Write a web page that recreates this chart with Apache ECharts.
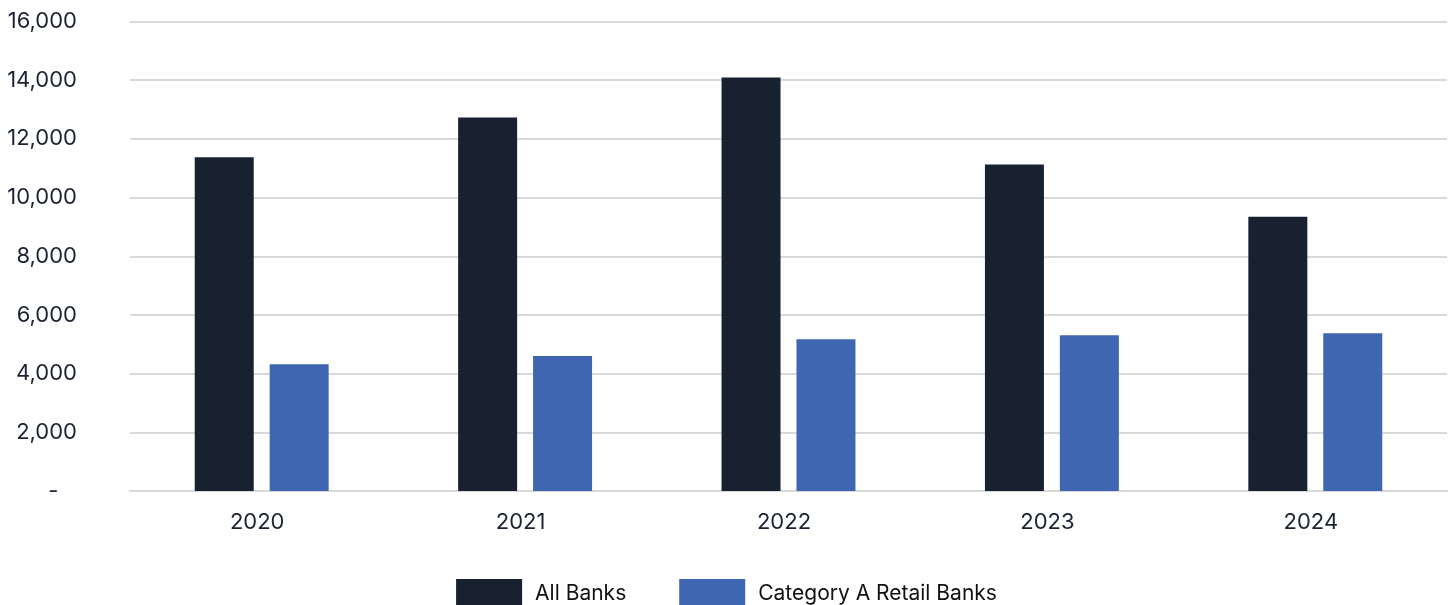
<!DOCTYPE html>
<html>
<head>
<meta charset="utf-8">
<script src="https://cdn.jsdelivr.net/npm/echarts@6/dist/echarts.min.js"></script>
<style>
  html, body { margin: 0; padding: 0; background: #ffffff; }
  #chart { width: 1453px; height: 605px; }
</style>
</head>
<body>
<div id="chart"></div>
<script>
// Years on the x axis
const years = ['2020', '2021', '2022', '2023', '2024'];
// Series values
const allBanks = [11370, 12730, 14090, 11130, 9350];
const categoryARetail = [4320, 4600, 5170, 5310, 5380];
// Series names
const seriesNames = ['All Banks', 'Category A Retail Banks'];

const textColor = '#1b2333';
const font = 'Inter, "Noto Sans", sans-serif';

const chart = echarts.init(document.getElementById('chart'), null, { renderer: 'canvas' });

chart.setOption({
  animation: false,
  backgroundColor: '#ffffff',
  grid: { left: 130, right: 6, top: 21.5, bottom: 114, containLabel: false },
  legend: {
    data: seriesNames,
    top: 574,
    left: 'center',
    itemWidth: 66,
    itemHeight: 30,
    itemGap: 53,
    icon: 'rect',
    textStyle: { color: '#111111', fontSize: 21, fontFamily: font, padding: [0, 0, 0, 8] }
  },
  xAxis: {
    type: 'category',
    data: years,
    axisLine: { show: true, lineStyle: { color: '#d9d9d9', width: 2 } },
    axisTick: { show: false },
    axisLabel: { color: textColor, fontSize: 22, fontFamily: font, margin: 20, padding: [0, 9, 0, 0] }
  },
  yAxis: {
    type: 'value',
    min: 0,
    max: 16000,
    interval: 2000,
    axisLine: { show: false },
    axisTick: { show: false },
    splitLine: { lineStyle: { color: '#d9d9d9', width: 2 } },
    axisLabel: {
      color: textColor,
      fontSize: 22,
      fontFamily: font,
      margin: 53,
      formatter: function (v) { return v === 0 ? '-   ' : v.toLocaleString('en-US'); }
    }
  },
  series: [
    {
      name: seriesNames[0],
      type: 'bar',
      data: allBanks,
      barWidth: 59,
      barGap: '27%',
      itemStyle: { color: '#17212f' }
    },
    {
      name: seriesNames[1],
      type: 'bar',
      data: categoryARetail,
      barWidth: 59,
      itemStyle: { color: '#3f67b1' }
    }
  ]
});
</script>
</body>
</html>
